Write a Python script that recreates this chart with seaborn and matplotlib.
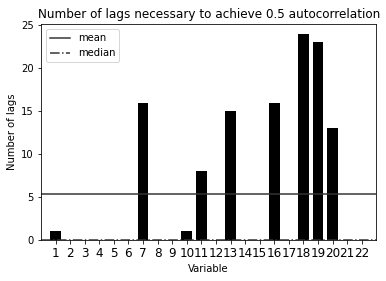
import matplotlib
matplotlib.use("Agg")
import matplotlib.pyplot as plt
import seaborn as sns
import numpy as np
import pandas as pd

variables = [str(i) for i in range(1, 23)]
lags = [1, 0, 0, 0, 0, 0, 16, 0, 0, 1, 8, 0, 15, 0, 0, 16, 0, 24, 23, 13, 0, 0]

df = pd.DataFrame({"Variable": variables, "Number of lags": lags})

plt.rcdefaults()
plt.rcParams['font.family'] = ['DejaVu Sans']

fig = plt.figure(figsize=(386 / 72, 281 / 72), dpi=72)
ax = fig.add_axes([0.106, 0.146, 0.869, 0.767])

sns.barplot(data=df, x="Variable", y="Number of lags", color="black",
            saturation=1, width=0.75, ax=ax)

mean_v = float(np.mean(lags))
median_v = float(np.median(lags))
ax.axhline(mean_v, color="#333333", linestyle="-", linewidth=1.5, label="mean")
ax.axhline(median_v, color="#333333", linestyle="-.", linewidth=1.5, label="median")

ax.set_xlim(-1, 22)
ax.set_ylim(0, 25.1)
ax.set_yticks([0, 5, 10, 15, 20, 25])
ax.tick_params(axis="x", labelsize=12)
ax.tick_params(axis="y", labelsize=10)
ax.set_xlabel("Variable", fontsize=10)
ax.set_ylabel("Number of lags", fontsize=10)
ax.set_title("Number of lags necessary to achieve 0.5 autocorrelation", fontsize=12)
ax.legend(loc="upper left", fontsize=10, frameon=True)

fig.savefig("out.png", dpi=72)
